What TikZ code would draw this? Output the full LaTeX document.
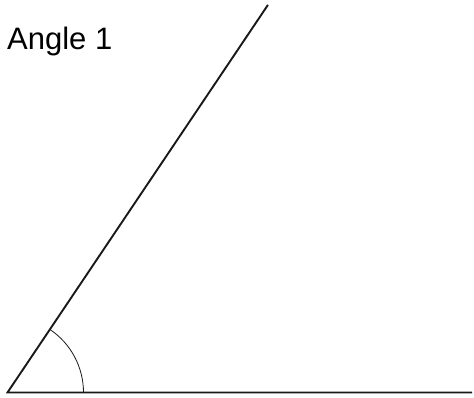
\documentclass[tikz,border=0pt]{standalone}
\usepackage{fontspec}
\setmainfont{Liberation Sans}
\usepackage{tikz}
\usetikzlibrary{calc}

\begin{document}
\begin{tikzpicture}[x=1pt, y=1pt,
    ray/.style={line width=1.9pt, black!90},
    anglemark/.style={line width=0.8pt, black!90}]
  \useasboundingbox (0, 0) rectangle (474, 398);
  \coordinate (o) at (7.5, 5.5);
  \coordinate (a) at (472, 5.5);
  \coordinate (b) at ($(o) + (56.1:467)$);
  \node[anchor=base west, inner sep=0pt, font=\fontsize{31}{36}\selectfont] (label) at (7, 348.5) {Angle 1};
  \draw[ray] (a) -- (o) -- (b);
  \draw[anglemark] ($(o) + (76, 0)$) arc[start angle=0, end angle=56.1, radius=76];
\end{tikzpicture}
\end{document}
